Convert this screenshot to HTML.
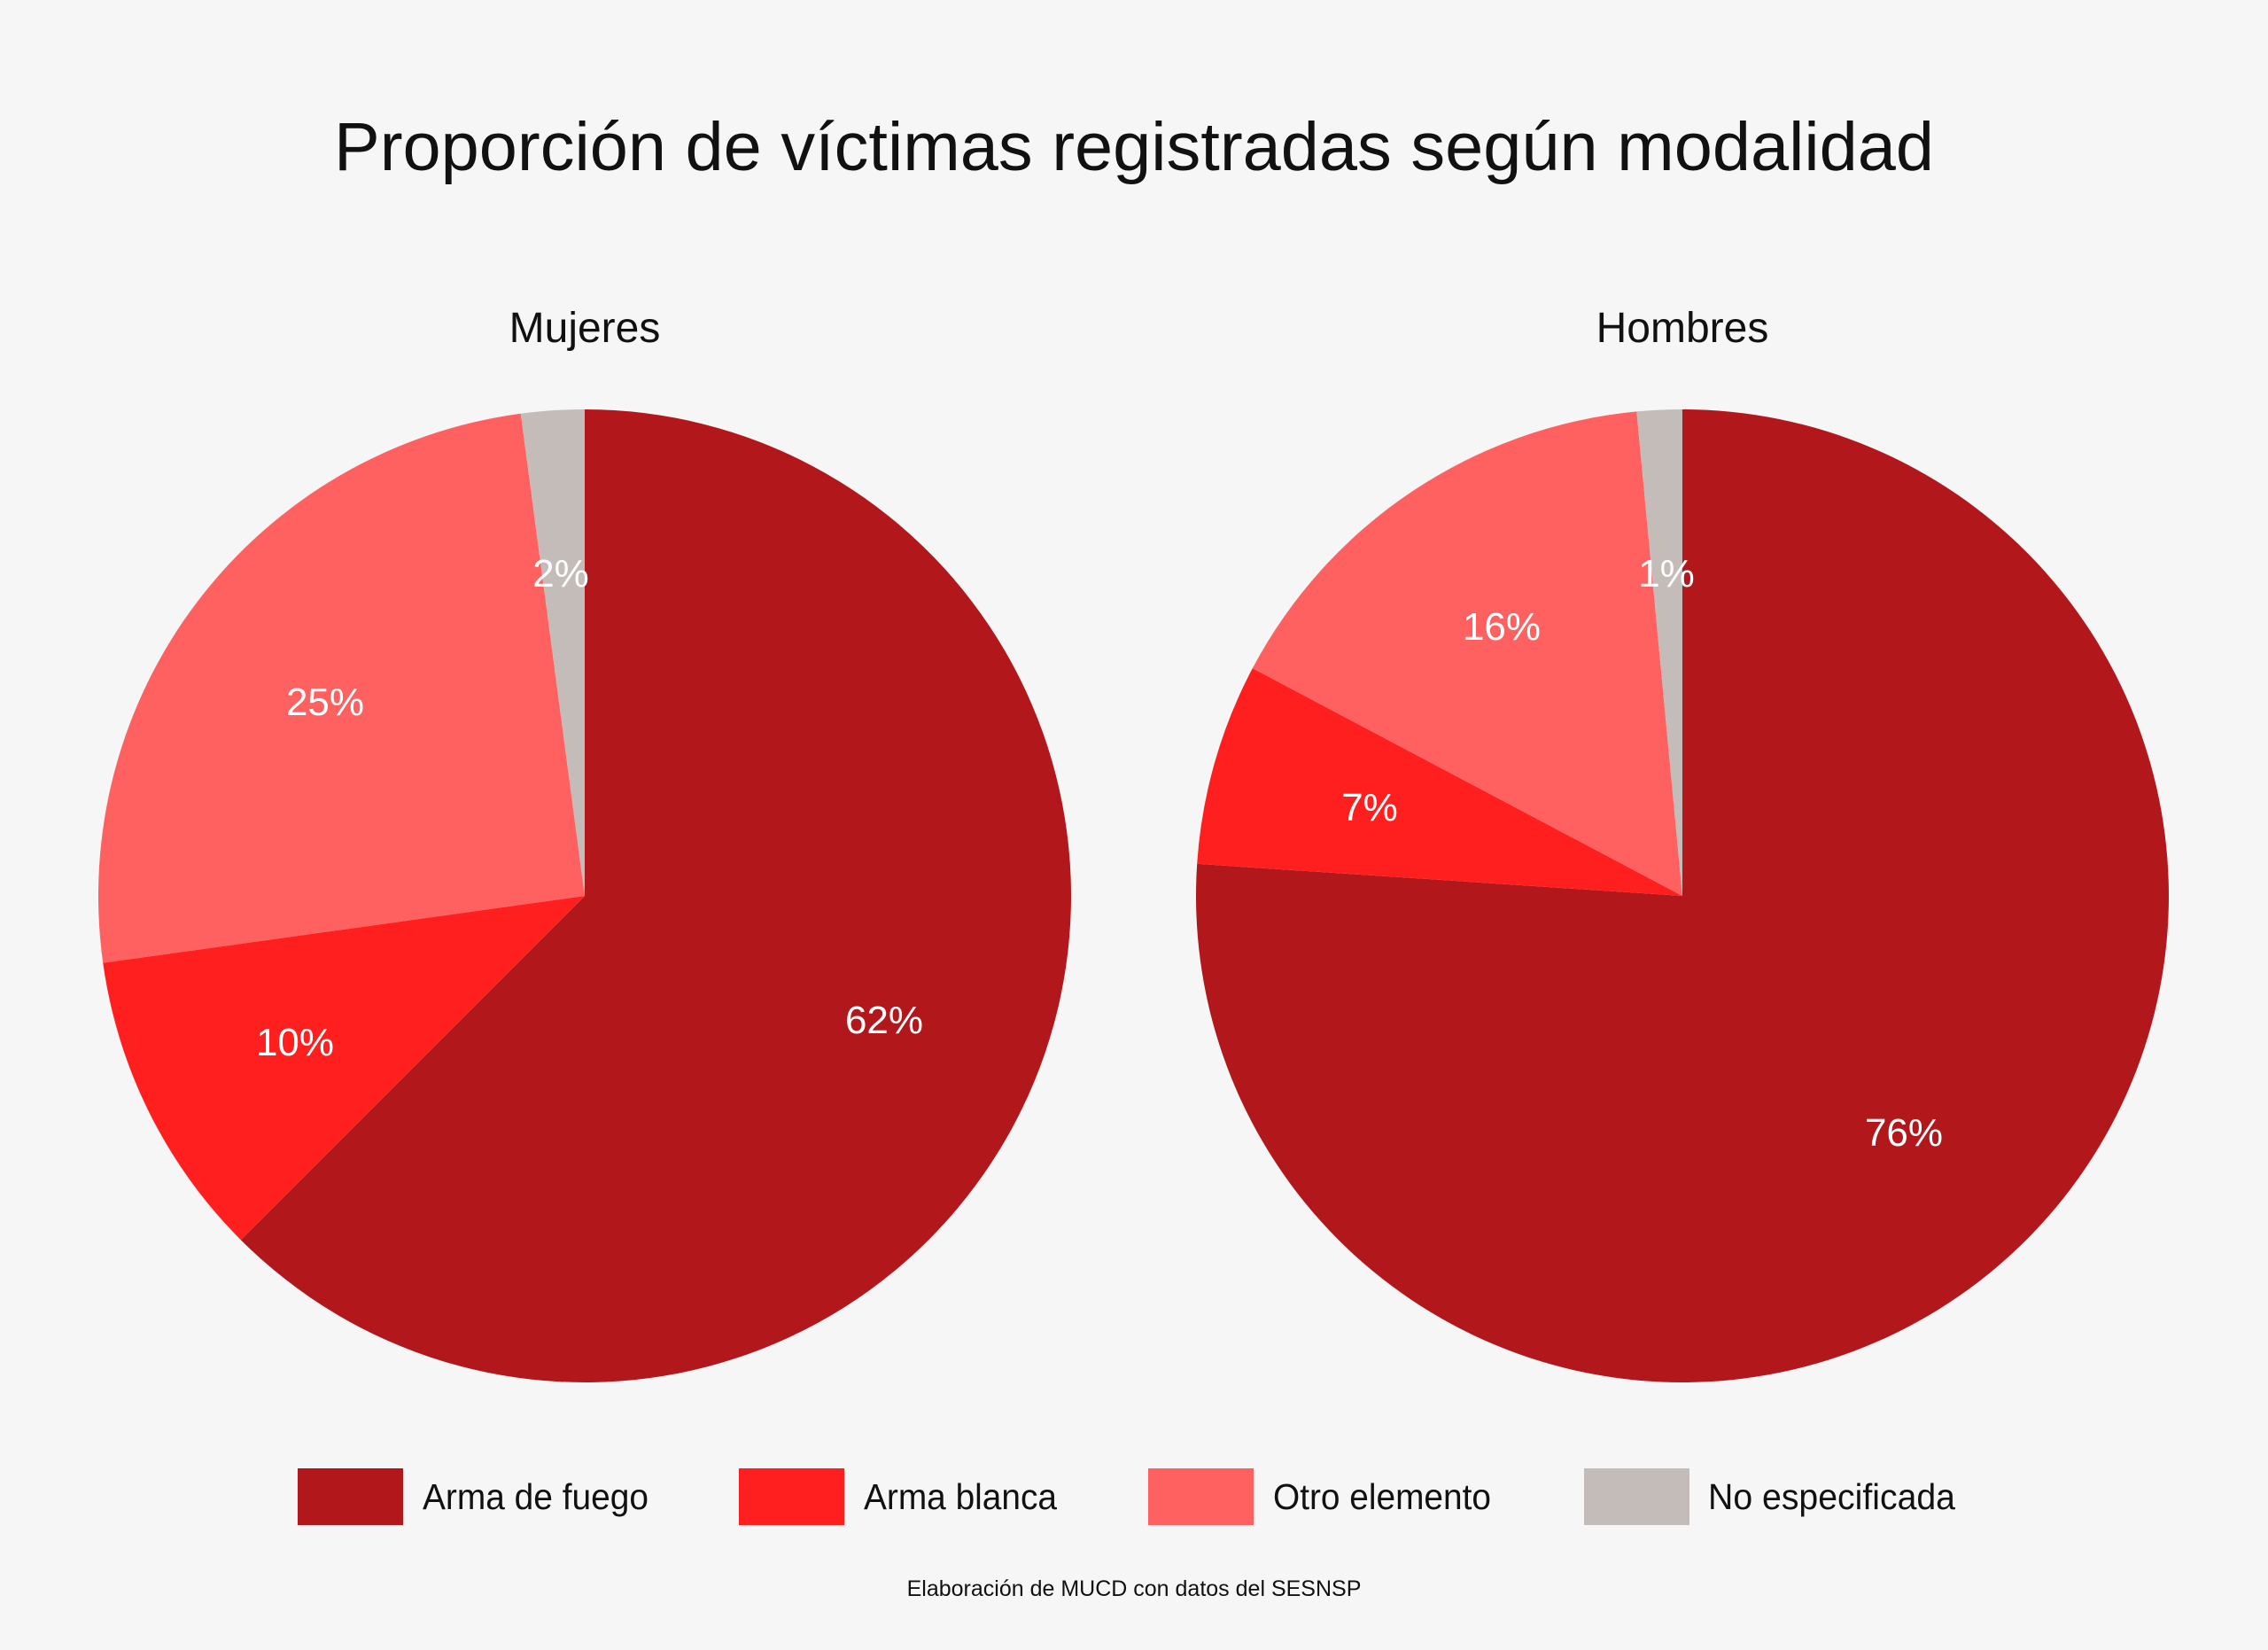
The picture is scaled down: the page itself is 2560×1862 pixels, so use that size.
<!DOCTYPE html>
<html><head><meta charset="utf-8"><style>
html,body{margin:0;padding:0;background:#f6f6f6;}
svg{display:block;font-family:"Liberation Sans",sans-serif;}
</style></head><body>
<svg id="s" width="2560" height="1862" viewBox="0 0 2560 1862" xmlns="http://www.w3.org/2000/svg">
<rect width="2560" height="1862" fill="#f6f6f6"/>
<text x="1280" y="192" font-size="77" text-anchor="middle" fill="#111" textLength="1806" lengthAdjust="spacingAndGlyphs">Proporción de víctimas registradas según modalidad</text>
<text x="660" y="386" font-size="48" text-anchor="middle" fill="#111">Mujeres</text>
<text x="1899" y="386" font-size="48" text-anchor="middle" fill="#111">Hombres</text>
<g id="p"></g>
<g font-size="44" fill="#fff" text-anchor="middle">
<text x="998" y="1166">62%</text>
<text x="333" y="1191">10%</text>
<text x="367" y="807">25%</text>
<text x="633" y="662">2%</text>
<text x="2149" y="1293">76%</text>
<text x="1546" y="926">7%</text>
<text x="1695" y="722">16%</text>
<text x="1881" y="662">1%</text>
</g>
<rect x="336" y="1657" width="119" height="64" fill="#b2181b"/>
<rect x="834" y="1657" width="119" height="64" fill="#ff1f1f"/>
<rect x="1296" y="1657" width="119" height="64" fill="#ff6060"/>
<rect x="1788" y="1657" width="119" height="64" fill="#c4bcb8"/>
<g font-size="41" fill="#111">
<text x="477" y="1703" textLength="255" lengthAdjust="spacingAndGlyphs">Arma de fuego</text>
<text x="975" y="1703" textLength="218" lengthAdjust="spacingAndGlyphs">Arma blanca</text>
<text x="1437" y="1703" textLength="246" lengthAdjust="spacingAndGlyphs">Otro elemento</text>
<text x="1928" y="1703" textLength="279" lengthAdjust="spacingAndGlyphs">No especificada</text>
</g>
<text x="1280" y="1801" font-size="25" text-anchor="middle" fill="#111">Elaboración de MUCD con datos del SESNSP</text>
</svg>
<script>
var cols=["#b2181b","#ff1f1f","#ff6060","#c4bcb8"];
var pies=[[660,1011,[0,0.625,0.728,0.979,1]],[1899,1011,[0,0.7605,0.8275,0.985,1]]];
var r=549,g=document.getElementById('p'),h='';
pies.forEach(function(p){var cx=p[0],cy=p[1],f=p[2];
for(var i=0;i<4;i++){var a0=f[i]*2*Math.PI,a1=f[i+1]*2*Math.PI;
var x0=cx+r*Math.sin(a0),y0=cy-r*Math.cos(a0),x1=cx+r*Math.sin(a1),y1=cy-r*Math.cos(a1);
var l=(a1-a0)>Math.PI?1:0;
h+='<path fill="'+cols[i]+'" d="M'+cx+','+cy+' L'+x0+','+y0+' A'+r+','+r+' 0 '+l+' 1 '+x1+','+y1+' Z"/>';}});
g.innerHTML=h;
</script>
</body></html>
